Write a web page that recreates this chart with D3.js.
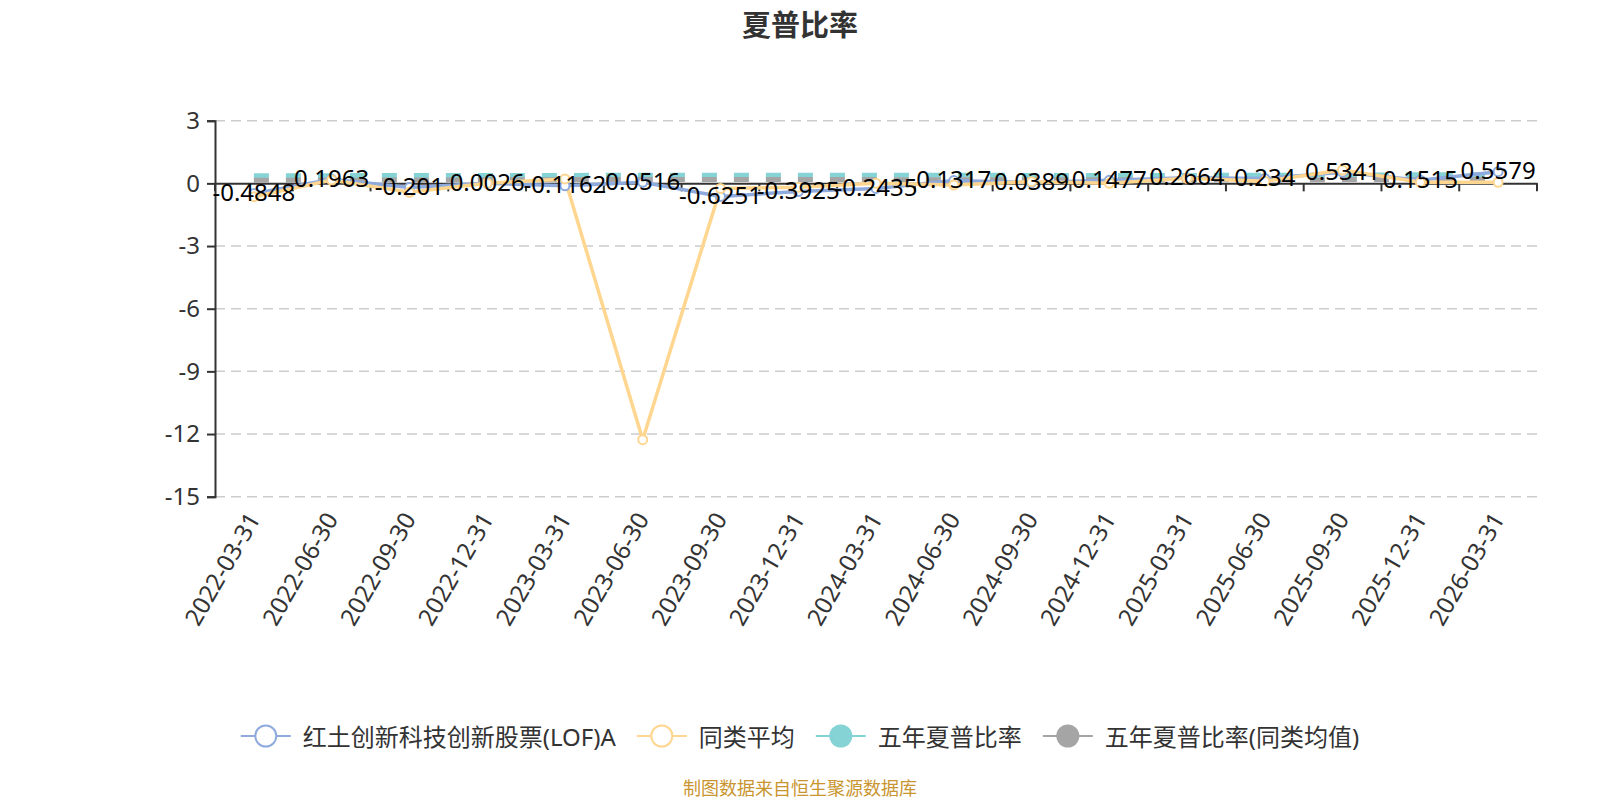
<html lang="zh">
<head>
  <title>夏普比率</title>
  <meta charset="utf-8">
  <style>
    body { margin: 0; background: #fff; }
    text { font-family: 'Noto Sans', 'Noto Sans CJK SC', sans-serif; }
  </style>
</head>

<script src="https://cdn.jsdelivr.net/npm/d3@7"></script>

<body>
  <svg id = 'canvas' style = 'width: 1600px; height: 800px; display: block;'></svg>
</body>

<script>

var dates = ['2022-03-31', '2022-06-30', '2022-09-30', '2022-12-31', '2023-03-31', '2023-06-30',
             '2023-09-30', '2023-12-31', '2024-03-31', '2024-06-30', '2024-09-30', '2024-12-31',
             '2025-03-31', '2025-06-30', '2025-09-30', '2025-12-31', '2026-03-31'];

var fund_values = [-0.4848, 0.1963, -0.201, 0.0026, -0.1162, 0.0516, -0.6251, -0.3925, -0.2435,
                   0.1317, 0.0389, 0.1477, 0.2664, 0.234, 0.5341, 0.1515, 0.5579];

var peer_values = [-0.64, 0.16, -0.43, 0.01, 0.21, -12.27, -0.24, -0.19, 0.0, -0.08, 0.08, 0.0,
                   0.24, 0.1, 0.64, 0.05, 0.05];

var five_year_values = [0.37, 0.37, 0.38, 0.38, 0.38, 0.39, 0.39, 0.39, 0.39, 0.39, 0.38, 0.38,
                        0.38, 0.39, 0.40, 0.41, 0.42];

var five_year_peer_values = [0.15, 0.15, 0.16, 0.17, 0.18, 0.19, 0.19, 0.18, 0.18, 0.17, 0.17, 0.17,
                             0.17, 0.17, 0.18, 0.18, 0.18];

var y_ticks = [3, 0, -3, -6, -9, -12, -15];

var series_names = ['红土创新科技创新股票(LOF)A', '同类平均', '五年夏普比率', '五年夏普比率(同类均值)'];
var series_colors = ['#8faadc', '#ffd68f', '#86d3d6', '#a5a5a5'];

var svg = d3.select('#canvas');
var left = 215, right = 1537, top_y = 120.7, bottom_y = 496.7;

var x = d3.scaleBand().domain(dates).range([left, right]).padding(0);
var y = d3.scaleLinear().domain([-15, 3]).range([bottom_y, top_y]);
function cx(i){ return x(dates[i]) + x.bandwidth()/2; }

/*******************************************************************************/
// Title

svg.append('text').attr('x', 800).attr('y', 24).attr('text-anchor', 'middle').attr('dominant-baseline', 'central')
  .style('font-size', '29px').style('font-weight', 'bold').style('fill', '#333').text('夏普比率');

/*******************************************************************************/
// Grid and axes

svg.append('g').selectAll('line').data(y_ticks.filter(function(d){ return d != 0; })).enter()
  .append('line')
  .attr('x1', left).attr('x2', right)
  .attr('y1', function(d){ return y(d); }).attr('y2', function(d){ return y(d); })
  .style('stroke', '#ccc').style('stroke-width', 1.5).style('stroke-dasharray', '10,6');

var y_axis = svg.append('g').attr('transform', 'translate(' + left + ',0)')
  .call(d3.axisLeft(y).tickValues(y_ticks).tickSize(8).tickPadding(7).tickFormat(function(d){ return String(d); }));
y_axis.select('.domain').style('stroke', '#333').style('stroke-width', 2);
y_axis.selectAll('.tick line').style('stroke', '#333').style('stroke-width', 2);
y_axis.selectAll('.tick text').style('font-size', '24px').style('fill', '#333')
  .style('font-family', "'Noto Sans', sans-serif");

var x_axis = svg.append('g').attr('transform', 'translate(0,' + y(0) + ')')
  .call(d3.axisBottom(x).tickSize(0).tickFormat(''));
x_axis.select('.domain').style('stroke', '#333').style('stroke-width', 2);

var boundaries = d3.range(dates.length + 1);
svg.append('g').selectAll('line').data(boundaries).enter()
  .append('line')
  .attr('x1', function(k){ return left + k*x.bandwidth(); }).attr('x2', function(k){ return left + k*x.bandwidth(); })
  .attr('y1', y(0)).attr('y2', y(0) + 8)
  .style('stroke', '#333').style('stroke-width', 2);

svg.append('g').selectAll('text').data(dates).enter()
  .append('text')
  .attr('transform', function(d, i){ return 'translate(' + cx(i) + ',' + (bottom_y + 18) + ') rotate(-60)'; })
  .attr('text-anchor', 'end').attr('dy', '0.35em')
  .style('font-size', '24px').style('fill', '#333').text(function(d){ return d; });

/*******************************************************************************/
// Series lines

var line = d3.line().x(function(d, i){ return cx(i); }).y(function(d){ return y(d); });

svg.append('path').datum(five_year_values).attr('d', line)
  .style('fill', 'none').style('stroke', series_colors[2]).style('stroke-width', 5).style('stroke-dasharray', '15,17');
svg.append('path').datum(five_year_peer_values).attr('d', line)
  .style('fill', 'none').style('stroke', series_colors[3]).style('stroke-width', 5).style('stroke-dasharray', '15,17');

svg.append('path').datum(fund_values).attr('d', line)
  .style('fill', 'none').style('stroke', series_colors[0]).style('stroke-width', 3.5);
svg.append('path').datum(peer_values).attr('d', line)
  .style('fill', 'none').style('stroke', series_colors[1]).style('stroke-width', 3.5);

[fund_values, peer_values].forEach(function(vals, s){
  svg.append('g').selectAll('circle').data(vals).enter()
    .append('circle')
    .attr('cx', function(d, i){ return cx(i); }).attr('cy', function(d){ return y(d); }).attr('r', 4.5)
    .style('fill', '#fff').style('stroke', series_colors[s]).style('stroke-width', 2);
});

svg.append('g').selectAll('text').data(fund_values).enter()
  .append('text')
  .attr('x', function(d, i){ return cx(i); }).attr('y', function(d){ return y(d) - 2; })
  .attr('text-anchor', 'middle').attr('dominant-baseline', 'central')
  .style('font-size', '24px').style('fill', '#000').text(function(d){ return d; });

/*******************************************************************************/
// Legend

var legend = svg.append('g');
var lx = 0, legend_y = 736;
series_names.forEach(function(name, s){
  var g = legend.append('g').attr('transform', 'translate(' + lx + ',' + legend_y + ')');
  g.append('line').attr('x1', 0).attr('x2', 50).attr('y1', 0).attr('y2', 0)
    .style('stroke', series_colors[s]).style('stroke-width', 2);
  if(s < 2){
    g.append('circle').attr('cx', 25).attr('r', 10.5).style('fill', '#fff').style('stroke', series_colors[s]).style('stroke-width', 2);
  } else {
    g.append('circle').attr('cx', 25).attr('r', 11.5).style('fill', series_colors[s]);
  }
  var t = g.append('text').attr('x', 62).attr('dominant-baseline', 'central')
    .style('font-size', '24px').style('fill', '#333').text(name);
  lx += 62 + t.node().getComputedTextLength() + 21;
});
var legend_width = lx - 21;
legend.attr('transform', 'translate(' + (800 - legend_width/2) + ',0)');

/*******************************************************************************/
// Footer

svg.append('text').attr('x', 800).attr('y', 788).attr('text-anchor', 'middle').attr('dominant-baseline', 'central')
  .style('font-size', '18px').style('fill', '#c9952f').text('制图数据来自恒生聚源数据库');

</script>
</html>
